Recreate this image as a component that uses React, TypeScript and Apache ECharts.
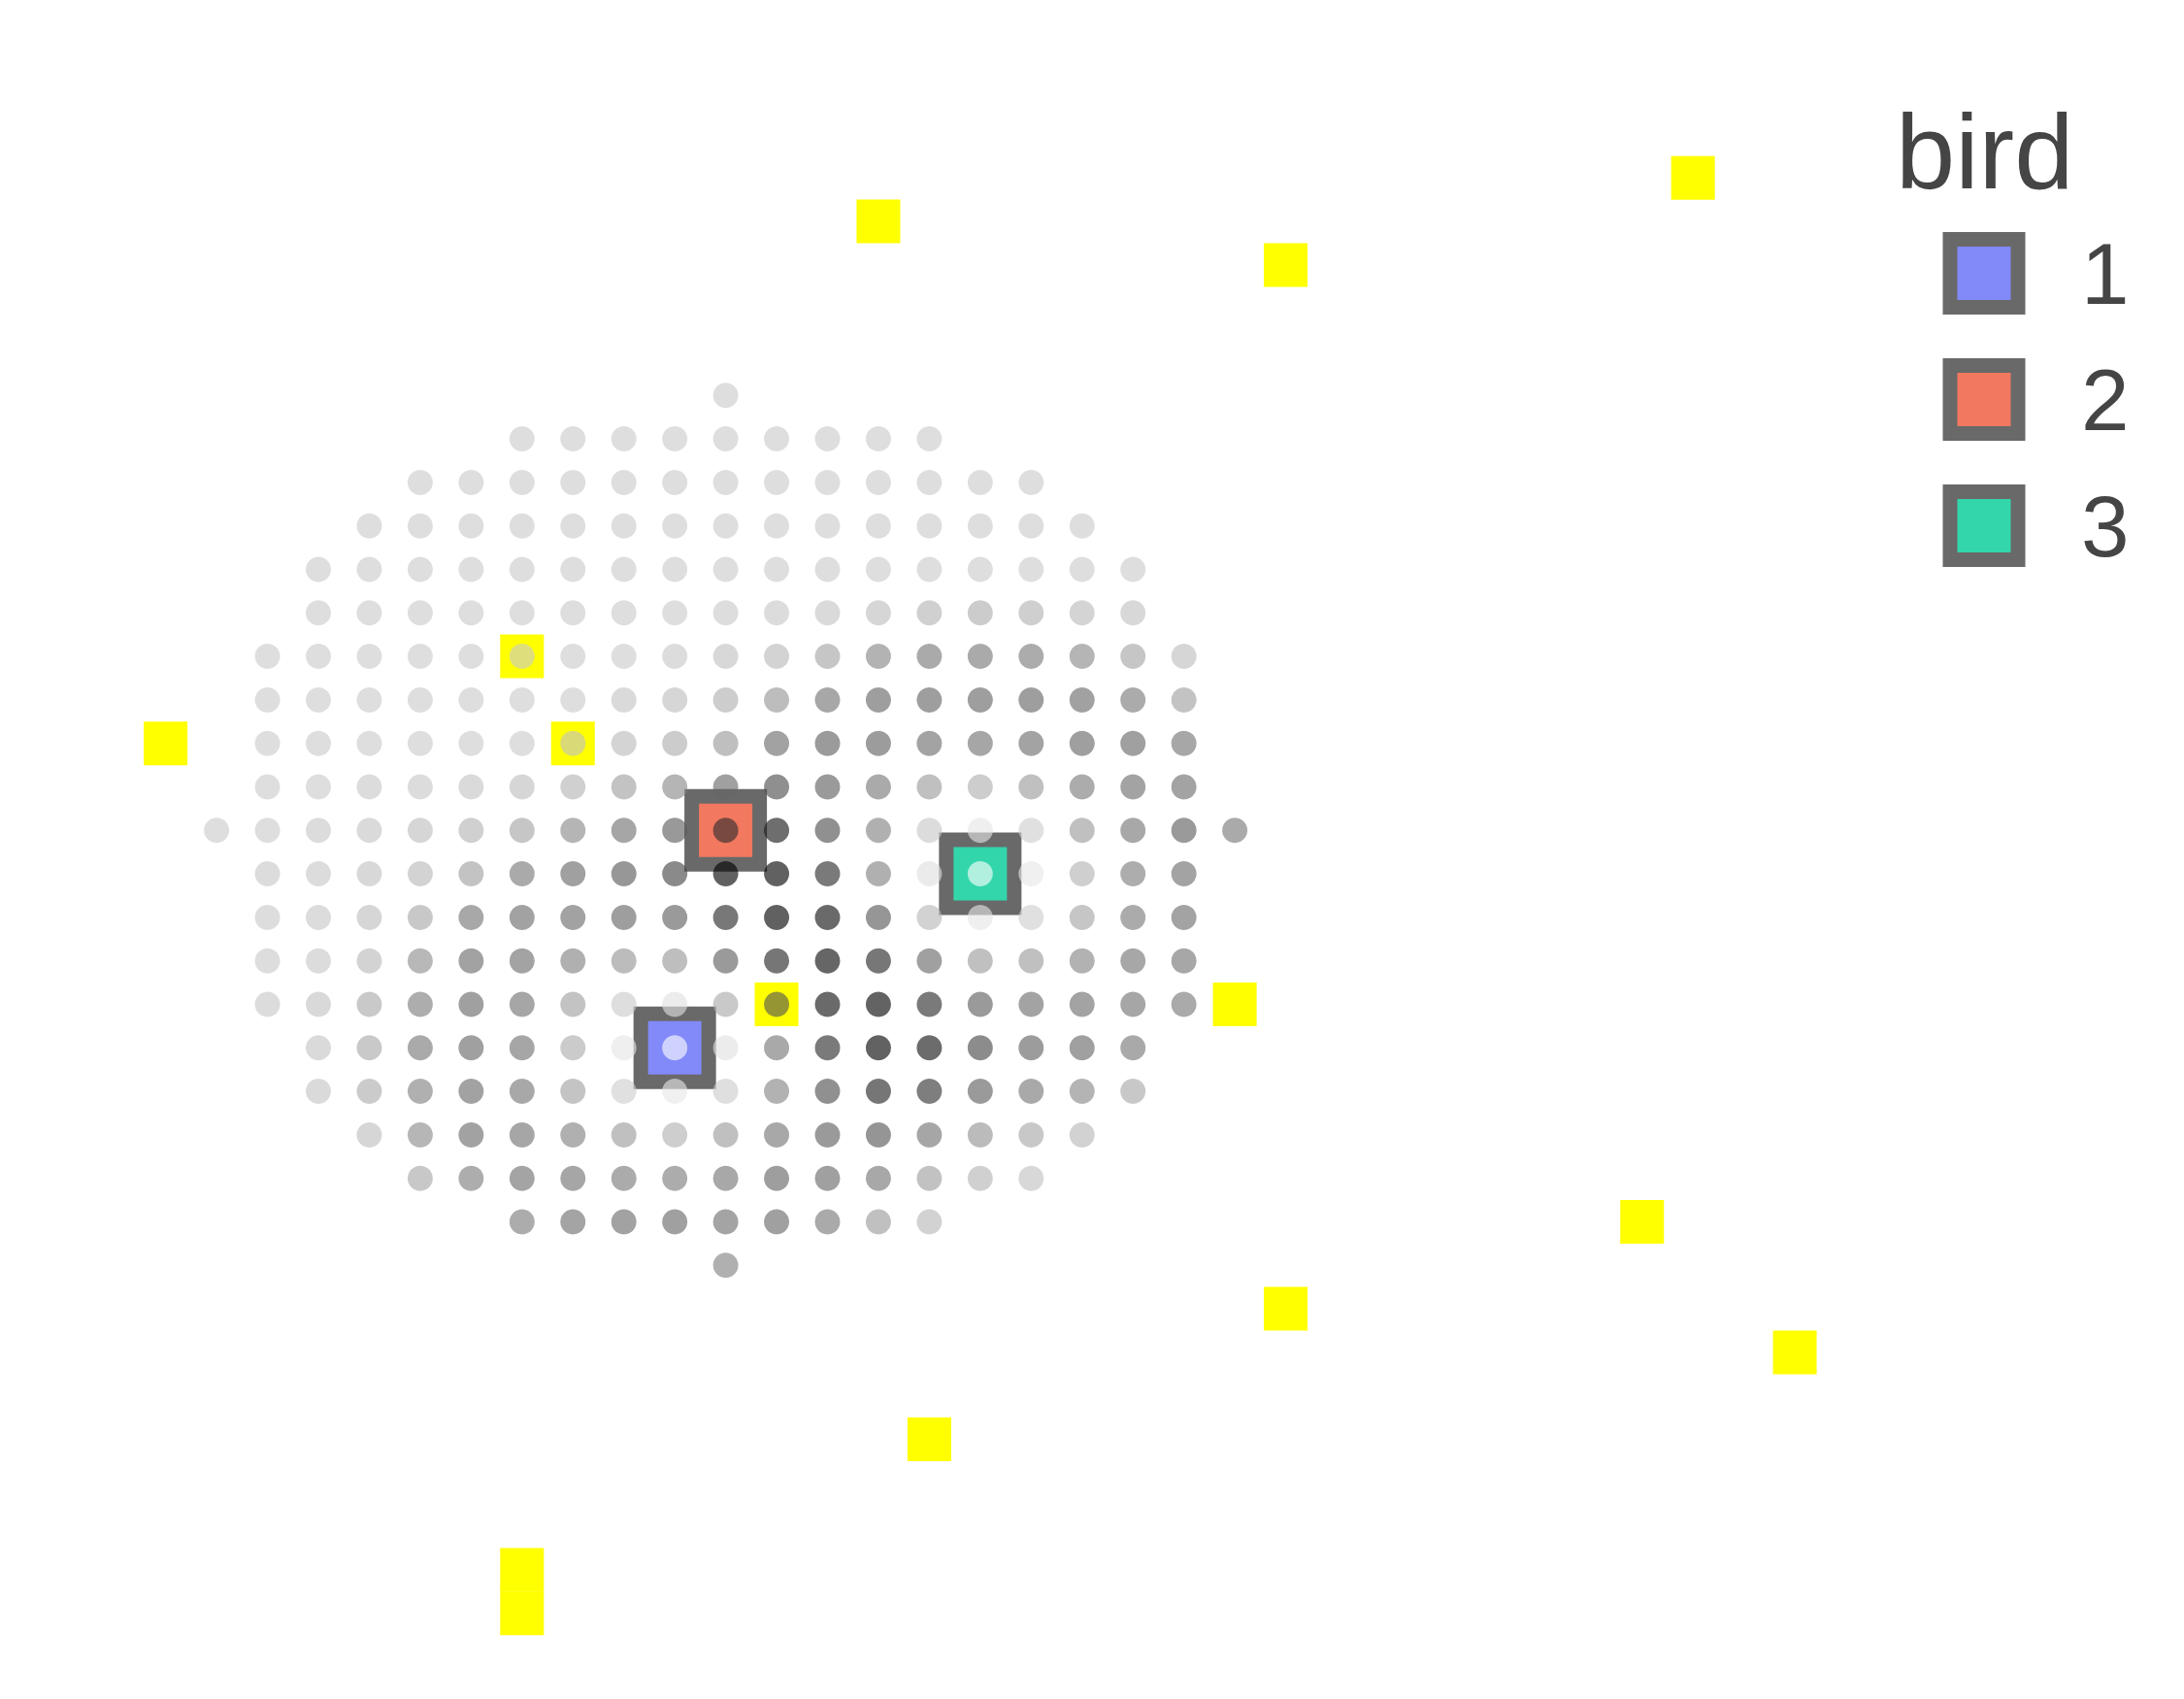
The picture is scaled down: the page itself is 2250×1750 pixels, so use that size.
import React, { useEffect, useRef } from "react";
import * as echarts from "echarts";

// Grid of sampled locations (rows from top y=10 to bottom y=-10); each row starts at dotRowStartX
const dotRowY = [10, 9, 8, 7, 6, 5, 4, 3, 2, 1, 0, -1, -2, -3, -4, -5, -6, -7, -8, -9, -10];
const dotRowStartX = [0, -4, -6, -7, -8, -8, -9, -9, -9, -9, -10, -9, -9, -9, -9, -8, -8, -7, -6, -4, 0];
// darkness value of each location (0 = white, ~158 = black)
const dotShade: number[][] = [
  [33],
  [33, 33, 33, 33, 33, 33, 33, 33, 33],
  [33, 33, 33, 33, 33, 33, 33, 33, 33, 33, 33, 33, 33],
  [33, 33, 33, 33, 33, 33, 33, 33, 33, 33, 33, 33, 33, 33, 33],
  [33, 33, 33, 33, 33, 33, 33, 33, 33, 33, 33, 33, 33, 33, 33, 33, 33],
  [33, 33, 33, 33, 33, 33, 33, 33, 34, 35, 37, 41, 47, 51, 48, 43, 39],
  [33, 33, 33, 33, 33, 33, 33, 33, 35, 39, 44, 57, 76, 85, 85, 83, 74, 57, 41],
  [33, 33, 33, 33, 33, 33, 33, 37, 41, 50, 66, 88, 97, 97, 97, 97, 94, 84, 60],
  [33, 33, 33, 33, 33, 33, 38, 43, 51, 64, 93, 100, 99, 92, 89, 92, 96, 95, 88],
  [33, 33, 35, 35, 37, 41, 47, 60, 74, 95, 112, 101, 85, 63, 50, 63, 83, 92, 92],
  [33, 33, 35, 37, 41, 47, 57, 74, 89, 102, 130, 145, 111, 79, 35, 16, 31, 63, 87, 101, 85],
  [35, 35, 39, 44, 60, 85, 95, 104, 117, 160, 160, 133, 79, 20, 0, 15, 48, 82, 92],
  [34, 35, 41, 55, 87, 93, 93, 97, 101, 135, 160, 149, 105, 45, 16, 31, 57, 84, 92],
  [34, 35, 44, 71, 93, 92, 79, 67, 65, 101, 137, 153, 136, 95, 63, 63, 77, 88, 88],
  [35, 38, 54, 82, 95, 89, 60, 33, 19, 54, 106, 149, 156, 133, 101, 92, 92, 89, 85],
  [37, 54, 85, 95, 89, 52, 16, 0, 19, 86, 133, 157, 147, 115, 99, 95, 86],
  [37, 52, 79, 93, 87, 59, 31, 15, 32, 77, 111, 137, 129, 101, 86, 75, 55],
  [41, 73, 93, 89, 79, 63, 49, 63, 87, 101, 106, 89, 68, 55, 45],
  [55, 82, 91, 89, 84, 83, 87, 97, 95, 87, 61, 47, 39],
  [83, 91, 93, 95, 91, 95, 85, 63, 45],
  [79],
];

const yellowX = [3, 11, 19, -11, -4, -3, 1, 10, 18, 11, 21, 4, -4, -4];
const yellowY = [14, 13, 15, 2, 4, 2, -4, -4, -9, -11, -12, -14, -17, -18];

const birdNames = ["1", "2", "3"];
const birdX = [-1, 0, 5];
const birdY = [-5, 0, -1];
const birdColors = ["#8289F8", "#F2785F", "#33D6AB"];

export default function App() {
  const ref = useRef<HTMLDivElement>(null);

  useEffect(() => {
    if (!ref.current) return;
    const chart = echarts.init(ref.current, undefined, { renderer: "svg" });

    const dots: number[][] = [];
    dotRowY.forEach((y, r) => {
      dotShade[r].forEach((v, i) => {
        dots.push([dotRowStartX[r] + i, y, v]);
      });
    });
    const yellow = yellowX.map((x, i) => [x, yellowY[i]]);

    const birdSeries = birdNames.map((name, i) => ({
      name,
      type: "scatter",
      z: 2,
      symbol: "rect",
      symbolSize: 70,
      silent: true,
      itemStyle: {
        color: birdColors[i],
        borderColor: "#696969",
        borderWidth: 15,
        opacity: 1,
      },
      emphasis: { disabled: true },
      data: [[birdX[i], birdY[i]]],
    }));

    chart.setOption({
      animation: false,
      backgroundColor: "#ffffff",
      textStyle: { fontFamily: "Liberation Sans" },
      grid: { left: 65.75, top: 48.9, width: 1888.2, height: 1657.6 },
      xAxis: { type: "value", min: -13, max: 23, show: false },
      yAxis: { type: "value", min: -19, max: 18, show: false },
      title: {
        text: "bird",
        left: 1953,
        top: 100,
        padding: 0,
        textStyle: {
          fontSize: 110,
          fontWeight: "normal",
          color: "#454545",
          fontFamily: "Liberation Sans",
        },
      },
      legend: {
        data: birdNames,
        orient: "vertical",
        left: 2001.5,
        top: 237,
        padding: 0,
        itemWidth: 70,
        itemHeight: 70,
        itemGap: 41,
        icon: "rect",
        selectedMode: false,
        itemStyle: { borderWidth: 15, borderColor: "#696969" },
        textStyle: {
          fontSize: 89,
          color: "#454545",
          fontFamily: "Liberation Sans",
          padding: [8, 0, 0, 60],
        },
      },
      visualMap: {
        show: false,
        type: "continuous",
        seriesIndex: 4,
        dimension: 2,
        min: 0,
        max: 158,
        inRange: { color: ["#ffffff", "#000000"] },
      },
      series: [
        {
          name: "targets",
          type: "scatter",
          z: 1,
          symbol: "rect",
          symbolSize: 45,
          silent: true,
          itemStyle: { color: "#FFFF00", opacity: 1 },
          emphasis: { disabled: true },
          data: yellow,
        },
        ...birdSeries,
        {
          name: "field",
          type: "scatter",
          z: 3,
          symbol: "circle",
          symbolSize: 26,
          silent: true,
          itemStyle: { opacity: 0.62 },
          emphasis: { disabled: true },
          data: dots,
        },
      ],
    });

    return () => chart.dispose();
  }, []);

  return (
    <div
      ref={ref}
      style={{ position: "absolute", left: 0, top: 0, width: 2250, height: 1750 }}
    />
  );
}
